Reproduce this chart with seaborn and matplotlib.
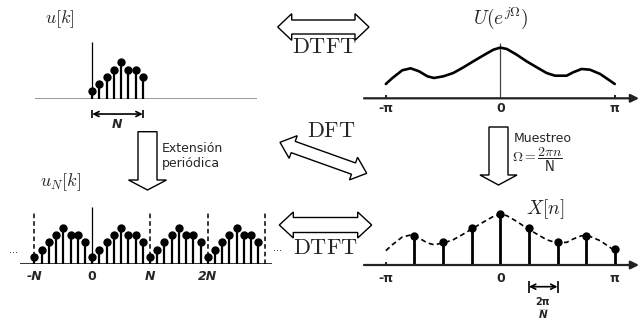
import numpy as np
import matplotlib.pyplot as plt
from matplotlib.patches import Polygon, FancyArrow
import seaborn as sns

sns.set_theme(style="white")
plt.rcParams['font.family'] = ['DejaVu Sans']
plt.rcParams['mathtext.fontset'] = 'cm'

W, H = 642, 320

# u[k], one period of length N
k_period = np.arange(8)
u_vals = [1, 2, 3, 4, 5, 4, 4, 3]
N = 8

# periodic extension u_N[k], k = -N .. 3N-1
k_ext = np.arange(-8, 24)
uN_vals = np.tile(u_vals, 4)

# U(e^{jOmega})
omega_curve = [-3.14, -2.96, -2.69, -2.46, -2.23, -2.0, -1.82, -1.56, -1.29,
               -1.01, -0.74, -0.46, -0.19, 0.0, 0.18, 0.45, 0.72, 1.0, 1.27,
               1.5, 1.82, 2.0, 2.23, 2.46, 2.74, 2.93, 3.14]
U_curve = [1.43, 2.03, 2.8, 3.0, 2.7, 2.2, 2.03, 2.2, 2.53,
           3.1, 3.7, 4.3, 4.86, 5.07, 4.93, 4.36, 3.7, 3.1, 2.53,
           2.26, 2.26, 2.6, 2.93, 2.86, 2.43, 1.96, 1.43]

# X[n] samples at Omega = 2*pi*n/N
n_idx = np.arange(-3, 5)
X_vals = [2.93, 2.27, 3.73, 5.1, 3.73, 2.27, 2.93, 1.57]

fig = plt.figure(figsize=(W / 100, H / 100), dpi=100)

# overlay in pixel coordinates for arrows and labels
ov = fig.add_axes([0, 0, 1, 1])
ov.set_xlim(0, W)
ov.set_ylim(H, 0)
ov.axis('off')


def panel(x0, x1, y0, y1, xlim, ylim):
    ax = fig.add_axes([x0 / W, 1 - y1 / H, (x1 - x0) / W, (y1 - y0) / H])
    ax.set_xlim(xlim)
    ax.set_ylim(ylim)
    ax.axis('off')
    return ax


def double_arrow(p0, p1, shaft, head, hl):
    p0, p1 = np.array(p0, float), np.array(p1, float)
    d = p1 - p0
    u = d / np.hypot(*d)
    nr = np.array([-u[1], u[0]])
    pts = [p0, p0 + u * hl + nr * head, p0 + u * hl + nr * shaft,
           p1 - u * hl + nr * shaft, p1 - u * hl + nr * head, p1,
           p1 - u * hl - nr * head, p1 - u * hl - nr * shaft,
           p0 + u * hl - nr * shaft, p0 + u * hl - nr * head]
    ov.add_patch(Polygon(pts, closed=True, fc='white', ec='black', lw=1.0))


def stems(ax, x, y, lw):
    ax.vlines(x, 0, y, color='black', lw=lw, zorder=2)
    sns.scatterplot(x=x, y=y, ax=ax, color='black', s=36, linewidth=0, zorder=3)


def span_arrow(ax, a, b, y, bar):
    ax.annotate('', xy=(b, y), xytext=(a, y), annotation_clip=False,
                arrowprops=dict(arrowstyle='<->', lw=1.2, color='black',
                                mutation_scale=9, shrinkA=0, shrinkB=0))
    ax.vlines([a, b], y - bar, y + bar, color='black', lw=1.2, clip_on=False)


# ---- u[k] (top left)
K0, KS = 92.2, 7.22
axA = panel(35, 257, 98.5 - 8 * KS, 98.5,
            ((35 - K0) / KS, (257 - K0) / KS), (0, 8))
axA.plot(axA.get_xlim(), [0, 0], color='#888888', lw=1.2)
axA.vlines(0, 0, 7.85, color='black', lw=0.9)
stems(axA, k_period, u_vals, 1.6)
span_arrow(axA, 0, 7, -2.15, 0.6)
axA.text(3.5, -3.55, 'N', ha='center', va='center', fontsize=9,
         fontweight='bold', fontstyle='italic', clip_on=False)

# ---- u_N[k] (bottom left)
axC = panel(20, 272, 264 - 8 * KS, 264,
            ((20 - K0) / KS, (272 - K0) / KS), (0, 8))
axC.plot(axC.get_xlim(), [0, 0], color='#333333', lw=1.4)
axC.vlines(0, 0, 7.9, color='black', lw=0.9)
axC.vlines([-N, N, 2 * N, 3 * N], 0, 7.1, color='black', lw=1.1,
           linestyles=(0, (3, 2)))
stems(axC, k_ext, uN_vals, 1.6)
for kx, lab, it in [(-N, '-N', 'italic'), (0, '0', 'normal'),
                    (N, 'N', 'italic'), (2 * N, '2N', 'italic')]:
    axC.text(kx, -1.75, lab, ha='center', va='center', fontsize=9,
             fontweight='bold', fontstyle=it, clip_on=False)

# ---- U(e^{jOmega}) (top right)
O0, OS = 500.3, 36.45
axB = panel(364, 642, 98.3 - 58, 98.3,
            ((364 - O0) / OS, (642 - O0) / OS), (0, 5.8))
axB.annotate('', xy=((639 - O0) / OS, 0), xytext=((364 - O0) / OS, 0),
             arrowprops=dict(arrowstyle='-|>', lw=1.6, color='#222222',
                             mutation_scale=12, shrinkA=0, shrinkB=0))
axB.vlines(0, 0, 5.53, color='#444444', lw=0.9)
axB.vlines([-np.pi, np.pi], -0.33, 0.33, color='black', lw=1.2)
sns.lineplot(x=omega_curve, y=U_curve, ax=axB, color='black', lw=1.9)
for ox, lab in [(-np.pi, '-π'), (0, '0'), (np.pi, 'π')]:
    axB.text(ox, -1.0, lab, ha='center', va='center', fontsize=9,
             fontweight='bold', clip_on=False)

# ---- X[n] (bottom right)
axD = panel(364, 642, 265 - 58, 265,
            ((364 - O0) / OS, (642 - O0) / OS), (0, 5.8))
axD.annotate('', xy=((639 - O0) / OS, 0), xytext=((364 - O0) / OS, 0),
             arrowprops=dict(arrowstyle='-|>', lw=1.6, color='#222222',
                             mutation_scale=12, shrinkA=0, shrinkB=0))
axD.vlines([-np.pi], -0.33, 0.33, color='black', lw=1.2)
sns.lineplot(x=omega_curve, y=U_curve, ax=axD, color='black', lw=1.2,
             linestyle=(0, (3, 2)))
stems(axD, n_idx * 2 * np.pi / N, X_vals, 2.0)
for ox, lab in [(-np.pi, '-π'), (0, '0'), (np.pi, 'π')]:
    axD.text(ox, -1.3, lab, ha='center', va='center', fontsize=9,
             fontweight='bold', clip_on=False)
span_arrow(axD, 2 * np.pi / N, 4 * np.pi / N, -2.17, 0.6)

# 2pi/N label under the spacing arrow
ov.text(543, 302, '2π', ha='center', va='center', fontsize=7,
        fontweight='bold')
ov.plot([539, 547], [309, 309], color='#cccccc', lw=0.8)
ov.text(543, 315, 'N', ha='center', va='center', fontsize=7.5,
        fontweight='bold', fontstyle='italic')

# ---- arrows between panels
double_arrow((277.7, 27), (369, 27), 7, 13.3, 14)
double_arrow((279.3, 225), (371.7, 225), 7.5, 13, 14)
double_arrow((280, 142.3), (366.7, 173.3), 6, 12, 14)
ov.add_patch(FancyArrow(147.5, 131.7, 0, 58.3, width=19, head_width=38,
                        head_length=10, length_includes_head=True,
                        fc='white', ec='black', lw=1.0))
ov.add_patch(FancyArrow(498.5, 127, 0, 58, width=19, head_width=37,
                        head_length=10, length_includes_head=True,
                        fc='white', ec='black', lw=1.0))

# ---- labels
ov.text(60, 19, r'$u[k]$', ha='center', va='center', fontsize=13)
ov.text(500.5, 18, r'$U(e^{j\Omega})$', ha='center', va='center', fontsize=14)
ov.text(60, 182, r'$u_N[k]$', ha='center', va='center', fontsize=13)
ov.text(545, 209, r'$X[n]$', ha='center', va='center', fontsize=14)
ov.text(324, 47, r'$\mathrm{DTFT}$', ha='center', va='center', fontsize=16)
ov.text(331.5, 131, r'$\mathrm{DFT}$', ha='center', va='center', fontsize=16)
ov.text(325.5, 248, r'$\mathrm{DTFT}$', ha='center', va='center', fontsize=16)
ov.text(162, 148.3, 'Extensión', ha='left', va='center', fontsize=9)
ov.text(162, 163.3, 'periódica', ha='left', va='center', fontsize=9)
ov.text(514, 138.3, 'Muestreo', ha='left', va='center', fontsize=9)
ov.text(512, 160, r'$\Omega = \dfrac{2\pi n}{\mathsf{N}}$', ha='left',
        va='center', fontsize=10)
ov.text(13, 250, '...', ha='center', va='center', fontsize=7)
ov.text(278, 248, '...', ha='center', va='center', fontsize=7)

fig.savefig('out.png', dpi=100)
